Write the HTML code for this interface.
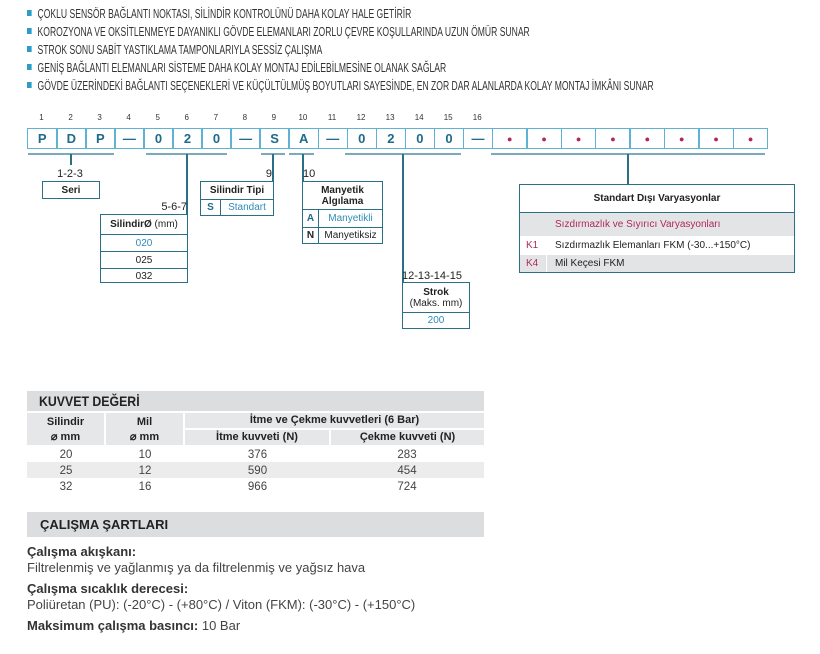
<!DOCTYPE html>
<html><head><meta charset="utf-8"><style>
*{margin:0;padding:0;box-sizing:border-box}
body{width:820px;height:654px;background:#fff;position:relative;font-family:"Liberation Sans",sans-serif;color:#222;overflow:hidden}
.a{position:absolute}
.bl{left:27px;font-size:13px;color:#333;white-space:nowrap;transform:scaleX(0.66);transform-origin:left center}
.bl:before{content:"";display:inline-block;width:7px;height:6px;background:#2d9cc6;margin-right:9px;vertical-align:2px}
.c{position:absolute;top:128px;height:21px;border:1.5px solid #5fb2d4;display:flex;align-items:center;justify-content:center;font-weight:bold;font-size:13px;color:#1d6a8a}
.num{position:absolute;top:113px;font-size:8px;width:29px;text-align:center;color:#333}
.ul{position:absolute;top:153px;height:2px;background:#7fa8b8}
.vl{position:absolute;width:1.5px;background:#2a6f86}
.bx{position:absolute;border:1.5px solid #2a6f86;background:#fff;font-size:10px}
.r{position:absolute;left:0;right:0;display:flex;align-items:center;justify-content:center;border-top:1.5px solid #2a6f86}
.blue{color:#2f8bb5}
.t{font-size:11px;position:absolute;text-align:center}
</style></head><body>
<div class="a bl" style="top:6px">ÇOKLU SENSÖR BAĞLANTI NOKTASI, SİLİNDİR KONTROLÜNÜ DAHA KOLAY HALE GETİRİR</div>
<div class="a bl" style="top:24px">KOROZYONA VE OKSİTLENMEYE DAYANIKLI GÖVDE ELEMANLARI ZORLU ÇEVRE KOŞULLARINDA UZUN ÖMÜR SUNAR</div>
<div class="a bl" style="top:42px">STROK SONU SABİT YASTIKLAMA TAMPONLARIYLA SESSİZ ÇALIŞMA</div>
<div class="a bl" style="top:60px">GENİŞ BAĞLANTI ELEMANLARI SİSTEME DAHA KOLAY MONTAJ EDİLEBİLMESİNE OLANAK SAĞLAR</div>
<div class="a bl" style="top:78px">GÖVDE ÜZERİNDEKİ BAĞLANTI SEÇENEKLERİ VE KÜÇÜLTÜLMÜŞ BOYUTLARI SAYESİNDE, EN ZOR DAR ALANLARDA KOLAY MONTAJ İMKÂNI SUNAR</div>

<div id="code"></div>
<script>
var ch=["P","D","P","—","0","2","0","—","S","A","—","0","2","0","0","—"];
var h="";
for(var i=0;i<16;i++){var x=27+i*29.05;h+='<div class="num" style="left:'+x+'px">'+(i+1)+'</div><div class="c" style="left:'+x+'px;width:30.5px">'+ch[i]+'</div>';}
for(var j=0;j<8;j++){var x=491.8+j*34.4;h+='<div class="c" style="left:'+x+'px;width:35.9px;color:#b0285a;font-size:9px">●</div>';}
document.getElementById("code").innerHTML=h;
</script>

<div class="ul" style="left:28px;width:86px"></div>
<div class="ul" style="left:146px;width:81px"></div>
<div class="ul" style="left:261px;width:24px"></div>
<div class="ul" style="left:289px;width:25px"></div>
<div class="ul" style="left:345px;width:116px"></div>
<div class="ul" style="left:491px;width:274px"></div>

<div class="vl" style="left:70px;top:154px;height:11px"></div>
<div class="vl" style="left:186px;top:154px;height:60px"></div>
<div class="vl" style="left:272px;top:154px;height:27px"></div>
<div class="vl" style="left:302px;top:154px;height:28px"></div>
<div class="vl" style="left:402px;top:154px;height:128px"></div>
<div class="vl" style="left:627px;top:154px;height:31px"></div>

<div class="t" style="left:40px;top:168px;width:60px">1-2-3</div>
<div class="bx" style="left:42px;top:181px;width:58px;height:18px;display:flex;align-items:center;justify-content:center;font-weight:bold">Seri</div>

<div class="t" style="left:140px;top:201px;width:47px;text-align:right">5-6-7</div>
<div class="bx" style="left:100px;top:214px;width:88px;height:69px">
<div class="r" style="top:0;height:19px;border:0"><b>SilindirØ</b>&nbsp;(mm)</div>
<div class="r blue" style="top:19px;height:17px">020</div>
<div class="r" style="top:36px;height:17px">025</div>
<div class="r" style="top:53px;height:16px">032</div>
</div>

<div class="t" style="left:250px;top:168px;width:22px;text-align:right">9</div>
<div class="bx" style="left:200px;top:181px;width:74px;height:35px">
<div class="r" style="top:0;height:17px;border:0;font-weight:bold">Silindir Tipi</div>
<div class="r" style="top:17px;height:16px"><span style="position:absolute;left:0;width:20px;height:100%;border-right:1.5px solid #2a6f86;display:flex;align-items:center;justify-content:center;font-weight:bold;color:#1d6a8a">S</span><span class="blue" style="margin-left:20px">Standart</span></div>
</div>

<div class="t" style="left:303px;top:168px;width:20px;text-align:left">10</div>
<div class="bx" style="left:302px;top:181px;width:81px;height:63px">
<div class="r" style="top:0;height:27px;border:0;font-weight:bold;line-height:11px;text-align:center">Manyetik<br>Algılama</div>
<div class="r" style="top:27px;height:18px"><span style="position:absolute;left:0;width:16px;height:100%;border-right:1.5px solid #2a6f86;display:flex;align-items:center;justify-content:center;font-weight:bold;color:#1d6a8a">A</span><span class="blue" style="margin-left:16px">Manyetikli</span></div>
<div class="r" style="top:45px;height:16px"><span style="position:absolute;left:0;width:16px;height:100%;border-right:1.5px solid #2a6f86;display:flex;align-items:center;justify-content:center;font-weight:bold">N</span><span style="margin-left:16px">Manyetiksiz</span></div>
</div>

<div class="t" style="left:402px;top:270px;width:68px;text-align:left">12-13-14-15</div>
<div class="bx" style="left:402px;top:282px;width:68px;height:47px">
<div class="r" style="top:0;height:29px;border:0;line-height:11px;text-align:center"><span><b>Strok</b><br>(Maks. mm)</span></div>
<div class="r blue" style="top:29px;height:16px">200</div>
</div>

<div class="bx" style="left:519px;top:184px;width:276px;height:89px">
<div class="r" style="top:0;height:27px;border:0;font-weight:bold">Standart Dışı Varyasyonlar</div>
<div class="r" style="top:27px;height:24px;background:#e3e4e5;justify-content:flex-start;padding-left:35px;color:#b0285a">Sızdırmazlık ve Sıyırıcı Varyasyonları</div>
<div class="r" style="top:51px;height:19px;border:0;justify-content:flex-start;padding-left:35px"><span style="position:absolute;left:6px;color:#b0285a">K1</span>Sızdırmazlık Elemanları FKM (-30...+150°C)</div>
<div class="r" style="top:70px;height:17px;border:0;background:#e3e4e5;justify-content:flex-start;padding-left:35px"><span style="position:absolute;left:0;width:27px;height:100%;background:#fff;"></span><span style="position:absolute;left:0;width:26px;height:100%;background:#e3e4e5;color:#b0285a;padding-left:6px;display:flex;align-items:center">K4</span>Mil Keçesi FKM</div>
</div>

<div class="a" style="left:27px;top:391px;width:457px;height:20px;background:#dcdddf;font-weight:bold;font-size:14px;padding-left:12px;line-height:20px"><span style="display:inline-block;transform:scaleX(0.88);transform-origin:left">KUVVET DEĞERİ</span></div>
<div class="a" style="left:27px;top:413px;width:77px;height:32px;background:#e6e7e8;font-size:11px;font-weight:bold;text-align:center;line-height:15px;padding-top:2px">Silindir<br>⌀ mm</div>
<div class="a" style="left:106px;top:413px;width:77px;height:32px;background:#e6e7e8;font-size:11px;font-weight:bold;text-align:center;line-height:15px;padding-top:2px">Mil<br>⌀ mm</div>
<div class="a" style="left:185px;top:413px;width:299px;height:15px;background:#e6e7e8;font-size:11px;font-weight:bold;text-align:center;line-height:15px">İtme ve Çekme kuvvetleri (6 Bar)</div>
<div class="a" style="left:185px;top:430px;width:144px;height:15px;background:#e6e7e8;font-size:11px;font-weight:bold;text-align:center;line-height:15px">İtme kuvveti (N)</div>
<div class="a" style="left:331px;top:430px;width:153px;height:15px;background:#e6e7e8;font-size:11px;font-weight:bold;text-align:center;line-height:15px">Çekme kuvveti (N)</div>
<div class="a" style="left:27px;top:462px;width:457px;height:16px;background:#ececed"></div>
<div class="a" style="left:27px;top:447px;width:457px;font-size:11.5px;color:#444;line-height:16px">
<div style="display:flex"><span style="width:78px;text-align:center">20</span><span style="width:80px;text-align:center">10</span><span style="width:145px;text-align:center">376</span><span style="width:154px;text-align:center">283</span></div>
<div style="display:flex"><span style="width:78px;text-align:center">25</span><span style="width:80px;text-align:center">12</span><span style="width:145px;text-align:center">590</span><span style="width:154px;text-align:center">454</span></div>
<div style="display:flex"><span style="width:78px;text-align:center">32</span><span style="width:80px;text-align:center">16</span><span style="width:145px;text-align:center">966</span><span style="width:154px;text-align:center">724</span></div>
</div>

<div class="a" style="left:27px;top:512px;width:457px;height:25px;background:#dcdddf;font-weight:bold;font-size:13px;padding-left:13px;line-height:25px">ÇALIŞMA ŞARTLARI</div>
<div class="a" style="left:27px;top:544px;font-size:13px;color:#444;line-height:16px">
<b style="color:#333">Çalışma akışkanı:</b><br>Filtrelenmiş ve yağlanmış ya da filtrelenmiş ve yağsız hava
<div style="height:5px"></div>
<b style="color:#333">Çalışma sıcaklık derecesi:</b><br>Poliüretan (PU): (-20°C) - (+80°C) / Viton (FKM): (-30°C) - (+150°C)
<div style="height:5px"></div>
<b style="color:#333">Maksimum çalışma basıncı:</b> 10 Bar
</div>
</body></html>
